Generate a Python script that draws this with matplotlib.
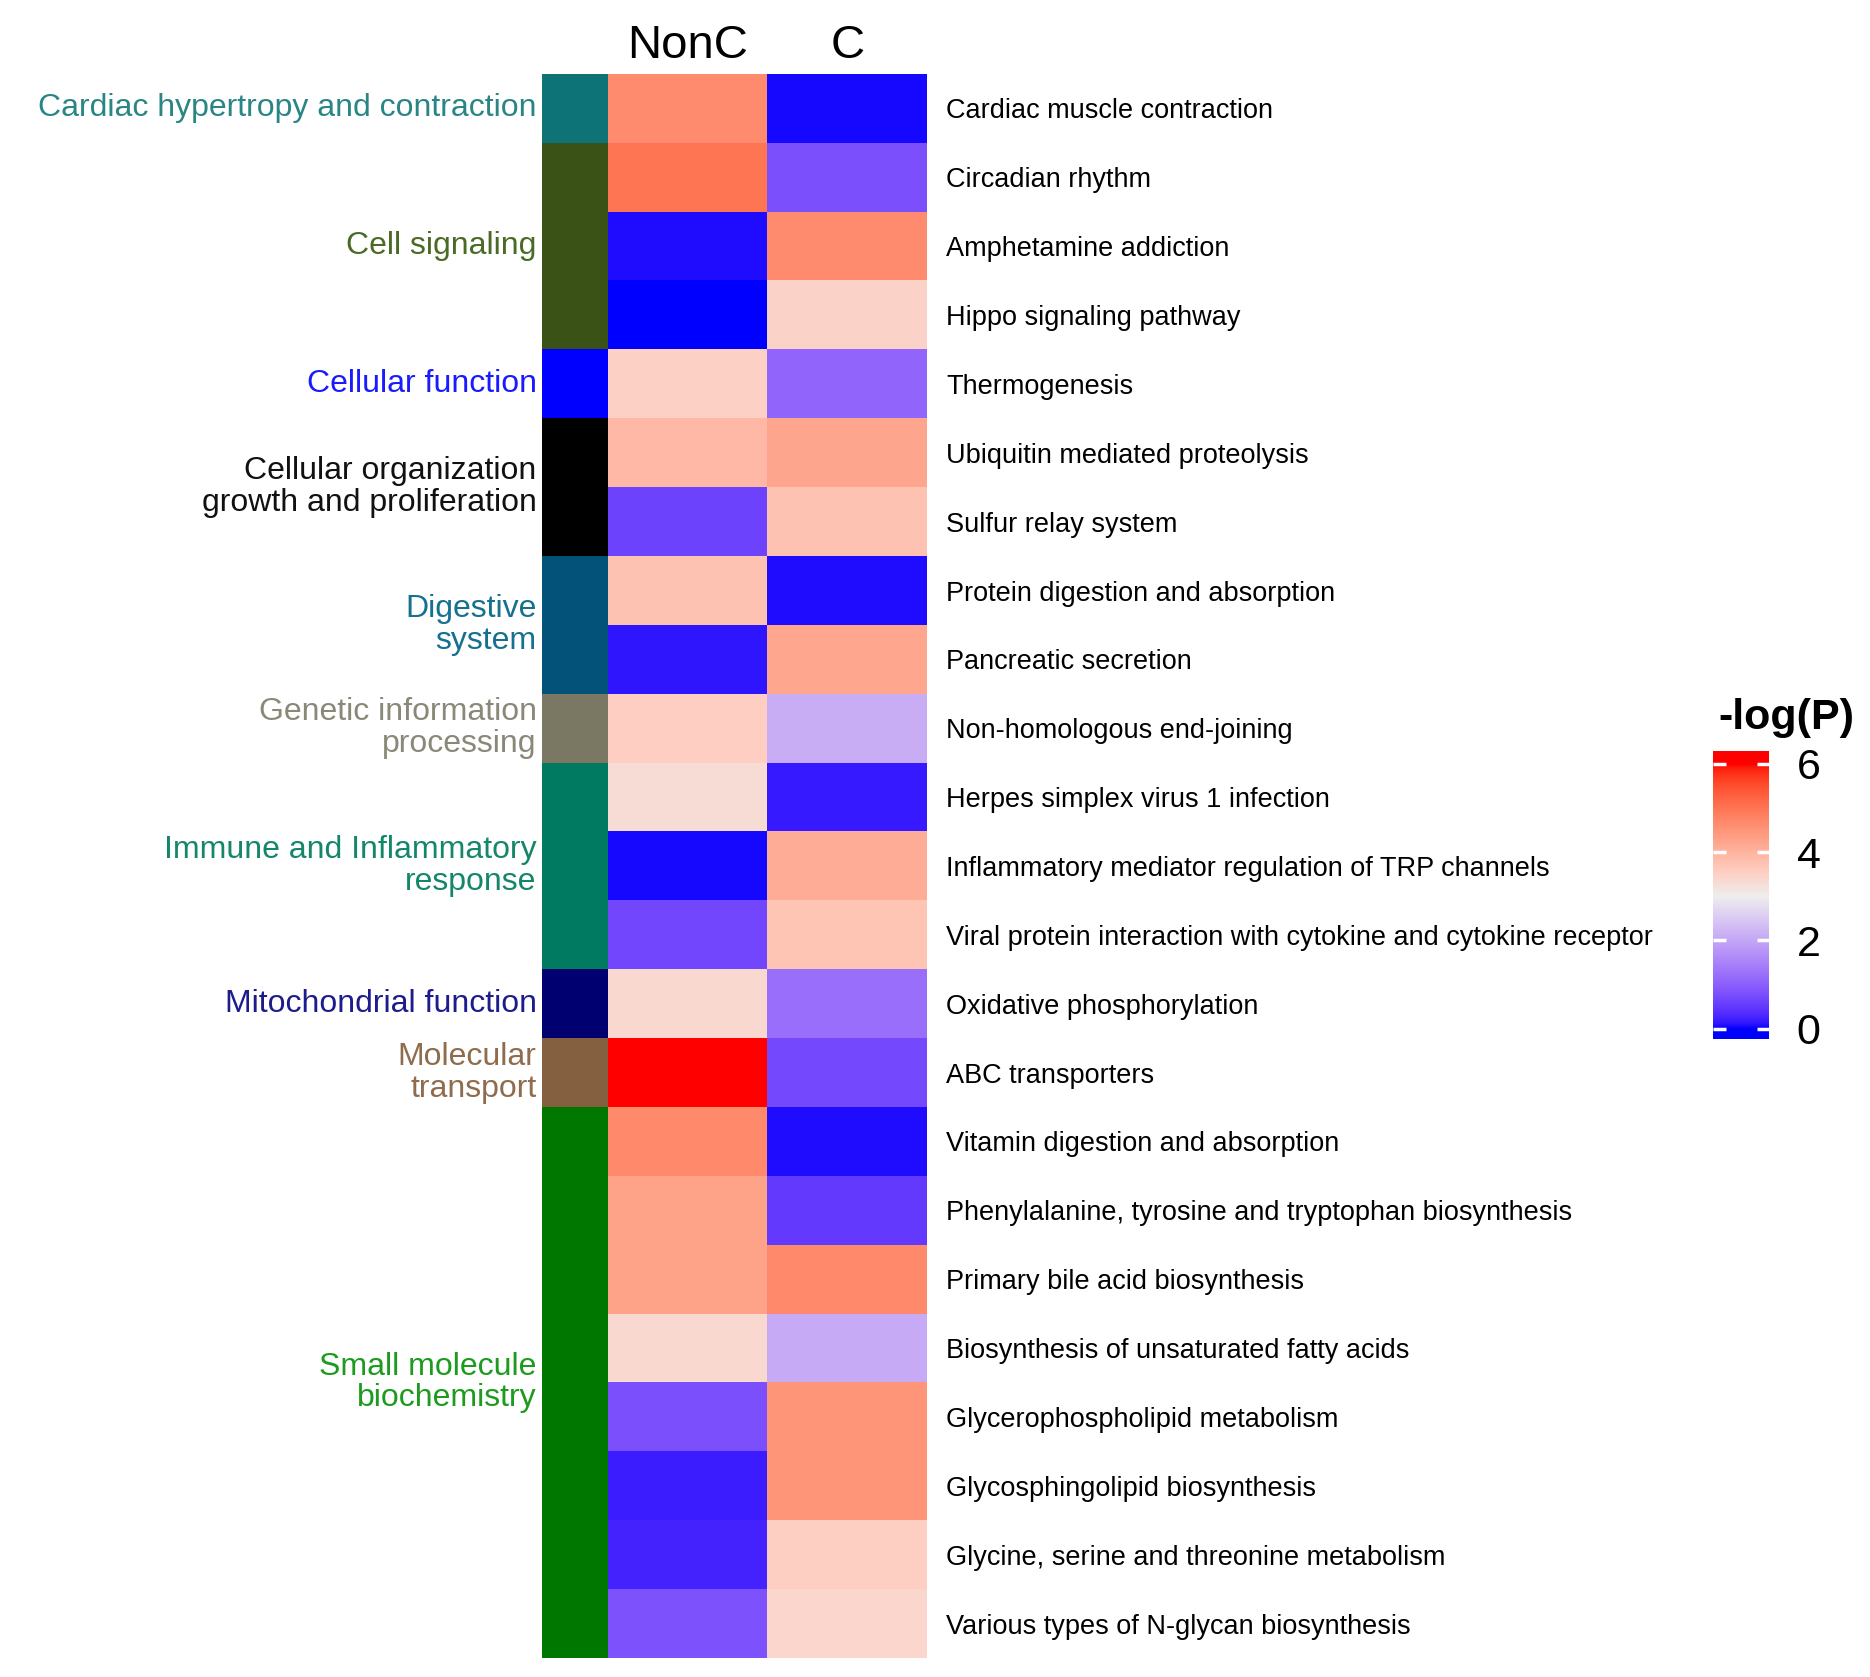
import numpy as np
import matplotlib
matplotlib.use("Agg")
import matplotlib.pyplot as plt
from matplotlib.colors import ListedColormap, Normalize, to_rgb

plt.rcParams['font.family'] = ['Liberation Sans', 'DejaVu Sans']

# ---------------- data ----------------
columns = ["NonC", "C"]
pathways = [
    "Cardiac muscle contraction",
    "Circadian rhythm",
    "Amphetamine addiction",
    "Hippo signaling pathway",
    "Thermogenesis",
    "Ubiquitin mediated proteolysis",
    "Sulfur relay system",
    "Protein digestion and absorption",
    "Pancreatic secretion",
    "Non-homologous end-joining",
    "Herpes simplex virus 1 infection",
    "Inflammatory mediator regulation of TRP channels",
    "Viral protein interaction with cytokine and cytokine receptor",
    "Oxidative phosphorylation",
    "ABC transporters",
    "Vitamin digestion and absorption",
    "Phenylalanine, tyrosine and tryptophan biosynthesis",
    "Primary bile acid biosynthesis",
    "Biosynthesis of unsaturated fatty acids",
    "Glycerophospholipid metabolism",
    "Glycosphingolipid biosynthesis",
    "Glycine, serine and threonine metabolism",
    "Various types of N-glycan biosynthesis",
]
nonc_values = [4.66, 5.00, 0.06, 0.00, 3.52, 3.92, 0.60, 3.76, 0.12, 3.56, 3.30, 0.04,
               0.66, 3.38, 6.00, 4.68, 4.30, 4.30, 3.38, 0.78, 0.18, 0.24, 0.80]
c_values = [0.04, 0.78, 4.66, 3.48, 1.08, 4.24, 3.76, 0.06, 4.22, 2.10, 0.16, 4.12,
            3.72, 1.20, 0.70, 0.06, 0.50, 4.68, 2.06, 4.50, 4.50, 3.54, 3.40]

categories = [
    "Cardiac hypertropy and contraction",
    "Cell signaling",
    "Cellular function",
    "Cellular organization\ngrowth and proliferation",
    "Digestive\nsystem",
    "Genetic information\nprocessing",
    "Immune and Inflammatory\nresponse",
    "Mitochondrial function",
    "Molecular\ntransport",
    "Small molecule\nbiochemistry",
]
category_counts = [1, 3, 1, 2, 2, 1, 3, 1, 1, 8]
category_bar_colors = ["#0E7376", "#3A5216", "#0000FF", "#000000", "#02527A",
                       "#7A7862", "#007A60", "#000070", "#856040", "#007800"]
category_text_colors = ["#2A8585", "#4A6A25", "#1A1AFF", "#111111", "#16708F",
                        "#8A8878", "#14866A", "#1C1C8C", "#8E6C4C", "#1E9A1E"]

legend_title = "-log(P)"
legend_ticks = [0, 2, 4, 6]
ramp_breaks = [0, 3, 6]
ramp_colors = ["blue", "#EEEEEE", "red"]

# ---------------- colormap (LAB interpolation, like colorRamp2) ----------------
def srgb_to_lab(rgb):
    rgb = np.asarray(rgb, float)
    lin = np.where(rgb <= 0.04045, rgb / 12.92, ((rgb + 0.055) / 1.055) ** 2.4)
    M = np.array([[0.4124564, 0.3575761, 0.1804375],
                  [0.2126729, 0.7151522, 0.0721750],
                  [0.0193339, 0.1191920, 0.9503041]])
    xyz = M @ lin
    wp = np.array([0.95047, 1.0, 1.08883])
    t = xyz / wp
    f = np.where(t > (6 / 29) ** 3, np.cbrt(t), t / (3 * (6 / 29) ** 2) + 4 / 29)
    return np.array([116 * f[1] - 16, 500 * (f[0] - f[1]), 200 * (f[1] - f[2])])

def lab_to_srgb(lab):
    L, a, b = lab
    fy_ = (L + 16) / 116
    fx_ = fy_ + a / 500
    fz_ = fy_ - b / 200
    def finv(f):
        return np.where(f > 6 / 29, f ** 3, 3 * (6 / 29) ** 2 * (f - 4 / 29))
    wp = np.array([0.95047, 1.0, 1.08883])
    xyz = np.array([finv(fx_), finv(fy_), finv(fz_)]) * wp
    Minv = np.array([[3.2404542, -1.5371385, -0.4985314],
                     [-0.9692660, 1.8760108, 0.0415560],
                     [0.0556434, -0.2040259, 1.0572252]])
    lin = np.clip(Minv @ xyz, 0, 1)
    srgb = np.where(lin <= 0.0031308, 12.92 * lin, 1.055 * lin ** (1 / 2.4) - 0.055)
    return np.clip(srgb, 0, 1)

labs = [srgb_to_lab(to_rgb(c)) for c in ramp_colors]
cols = []
for v in np.linspace(ramp_breaks[0], ramp_breaks[-1], 512):
    k = 0 if v <= ramp_breaks[1] else 1
    t = (v - ramp_breaks[k]) / (ramp_breaks[k + 1] - ramp_breaks[k])
    cols.append(lab_to_srgb(labs[k] * (1 - t) + labs[k + 1] * t))
cmap = ListedColormap(cols)
norm = Normalize(ramp_breaks[0], ramp_breaks[-1])

# ---------------- figure ----------------
W, H = 1870, 1677
fig = plt.figure(figsize=(W / 100, H / 100), dpi=100)

def fx(px):
    return px / W

def fy(py):
    return 1 - py / H

top, bottom = 74, 1658
ann_l, ann_r, heat_r = 542, 608, 927
n = len(pathways)

ax_ann = fig.add_axes([fx(ann_l), fy(bottom), fx(ann_r - ann_l), (bottom - top) / H])
ax_heat = fig.add_axes([fx(ann_r), fy(bottom), fx(heat_r - ann_r), (bottom - top) / H])

# heatmap
data = np.column_stack([nonc_values, c_values])
ax_heat.imshow(data, cmap=cmap, norm=norm, aspect="auto", interpolation="nearest",
               extent=(-0.5, 1.5, n - 0.5, -0.5))
ax_heat.set_xlim(-0.5, 1.5)
ax_heat.set_ylim(n - 0.5, -0.5)
ax_heat.set_yticks(range(n))
ax_heat.set_yticklabels(pathways, fontsize=19.5)
ax_heat.yaxis.tick_right()
ax_heat.tick_params(axis="y", length=0, pad=14)
ax_heat.set_xticks([])
for s in ax_heat.spines.values():
    s.set_visible(False)
for i, c in enumerate(columns):
    fig.text(fx(ann_r) + (i + 0.5) * fx(heat_r - ann_r) / 2, fy(46), c,
             ha="center", va="center", fontsize=34)

# annotation bar
cat_idx = np.repeat(np.arange(len(categories)), category_counts)
ax_ann.imshow(cat_idx[:, None], cmap=ListedColormap(category_bar_colors),
              vmin=-0.5, vmax=len(categories) - 0.5, aspect="auto",
              interpolation="nearest", extent=(0, 1, n - 0.5, -0.5))
ax_ann.set_xlim(0, 1)
ax_ann.set_ylim(n - 0.5, -0.5)
ax_ann.set_xticks([])
ax_ann.set_yticks([])
for s in ax_ann.spines.values():
    s.set_visible(False)
start = 0
for cat, cnt, tc in zip(categories, category_counts, category_text_colors):
    yc = start + cnt / 2 - 0.5
    ax_ann.text(-0.08, yc, cat, ha="right", va="center", fontsize=23,
                color=tc, linespacing=1.08)
    start += cnt

# colour legend
cb_top, cb_bot = 751, 1039
v_top, v_bot = 6.29, -0.23
cax = fig.add_axes([fx(1713), fy(cb_bot), fx(1769 - 1713), (cb_bot - cb_top) / H])
grad = np.linspace(v_bot, v_top, 400)[:, None]
cax.imshow(grad, cmap=cmap, norm=norm, aspect="auto", origin="lower",
           extent=(0, 1, v_bot, v_top))
cax.set_xlim(0, 1)
cax.set_ylim(v_bot, v_top)
cax.set_xticks([])
cax.set_yticks(legend_ticks)
cax.set_yticklabels([str(t) for t in legend_ticks], fontsize=31)
cax.yaxis.tick_right()
cax.tick_params(axis="y", direction="in", length=9, width=2.5, color="white",
                left=True, right=True, labelleft=False, labelright=True, pad=20)
for s in cax.spines.values():
    s.set_visible(False)
fig.text(fx(1718), fy(718), legend_title, ha="left", va="center",
         fontsize=31, fontweight="bold")

fig.savefig("out.png", dpi=100, facecolor="white")
